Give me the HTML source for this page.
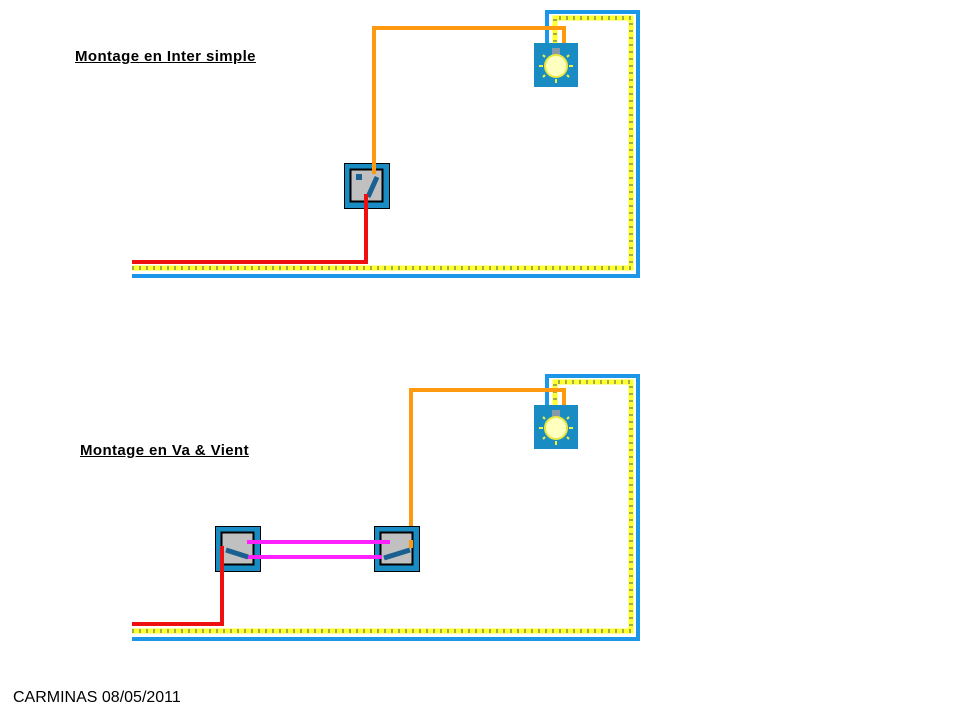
<!DOCTYPE html>
<html><head><meta charset="utf-8"><style>
body{margin:0;background:#fff;width:960px;height:720px;overflow:hidden;font-family:"Liberation Sans",sans-serif}
.t{position:absolute;font-weight:bold;font-size:15px;letter-spacing:0.4px;text-decoration:underline;color:#000}
</style></head><body>
<div class="t" style="left:75px;top:48px">Montage en Inter simple</div>
<div class="t" style="left:80px;top:442px">Montage en Va &amp; Vient</div>
<div style="position:absolute;left:13px;top:689px;font-size:16px">CARMINAS 08/05/2011</div>
<svg width="960" height="720" style="position:absolute;left:0;top:0" xmlns="http://www.w3.org/2000/svg">
<defs>
<g id="lamp">
<rect x="0" y="0" width="44" height="44" fill="#1a8cc4"/>
<rect x="18" y="5" width="8" height="7" fill="#8899aa"/>
<circle cx="22" cy="23" r="11" fill="#ffffc0" stroke="#e8e840" stroke-width="2"/>
<g stroke="#f0f040" stroke-width="2">
<line x1="22" y1="36" x2="22" y2="40"/><line x1="5" y1="23" x2="9" y2="23"/><line x1="35" y1="23" x2="39" y2="23"/>
<line x1="9" y1="12" x2="11" y2="14"/><line x1="35" y1="12" x2="33" y2="14"/>
<line x1="9" y1="34" x2="11" y2="32"/><line x1="35" y1="34" x2="33" y2="32"/>
</g>
</g>
<g id="sw">
<rect x="0.5" y="0.5" width="45" height="45" fill="#1a8cc4" stroke="#000"/>
<rect x="6.5" y="6.5" width="32" height="32" fill="#c0c0c0" stroke="#000" stroke-width="2"/>
</g>
</defs>

<!-- TOP -->
<polyline points="132,276 638,276 638,12 547,12 547,44" fill="none" stroke="#1b96e8" stroke-width="4"/>
<polyline points="132,268 631,268 631,18 555,18 555,44" fill="none" stroke="#ffff30" stroke-width="5"/>
<polyline points="132,268 631,268 631,18 555,18 555,44" fill="none" stroke="#a0b040" stroke-width="4" stroke-dasharray="2,5"/>
<polyline points="374,180 374,28 564,28 564,44" fill="none" stroke="#ff9a10" stroke-width="4"/>
<use href="#lamp" x="534" y="43"/>
<use href="#sw" x="344" y="163"/>
<rect x="356" y="174" width="6" height="6" fill="#1a6090"/>
<line x1="377" y1="177" x2="368" y2="197" stroke="#1a6090" stroke-width="5"/>
<polyline points="132,262 366,262 366,194" fill="none" stroke="#ee1010" stroke-width="4"/>
<polyline points="374,174 374,150" fill="none" stroke="#ff9a10" stroke-width="4"/>

<!-- BOTTOM -->
<polyline points="132,639 638,639 638,376 547,376 547,406" fill="none" stroke="#1b96e8" stroke-width="4"/>
<polyline points="132,631 631,631 631,382 555,382 555,406" fill="none" stroke="#ffff30" stroke-width="5"/>
<polyline points="132,631 631,631 631,382 555,382 555,406" fill="none" stroke="#a0b040" stroke-width="4" stroke-dasharray="2,5"/>
<polyline points="411,548 411,390 564,390 564,406" fill="none" stroke="#ff9a10" stroke-width="4"/>
<use href="#lamp" x="534" y="405"/>
<use href="#sw" x="215" y="526"/>
<use href="#sw" x="374" y="526"/>
<line x1="247" y1="542" x2="390" y2="542" stroke="#ff20ff" stroke-width="4"/>
<line x1="247" y1="557" x2="382" y2="557" stroke="#ff20ff" stroke-width="4"/>
<line x1="226" y1="550" x2="248" y2="557" stroke="#1a6090" stroke-width="5"/>
<line x1="384" y1="558" x2="410" y2="550" stroke="#1a6090" stroke-width="5"/>
<line x1="411" y1="548" x2="411" y2="540" stroke="#ff9a10" stroke-width="4"/>
<polyline points="132,624 222,624 222,546" fill="none" stroke="#ee1010" stroke-width="4"/>
</svg>
</body></html>
